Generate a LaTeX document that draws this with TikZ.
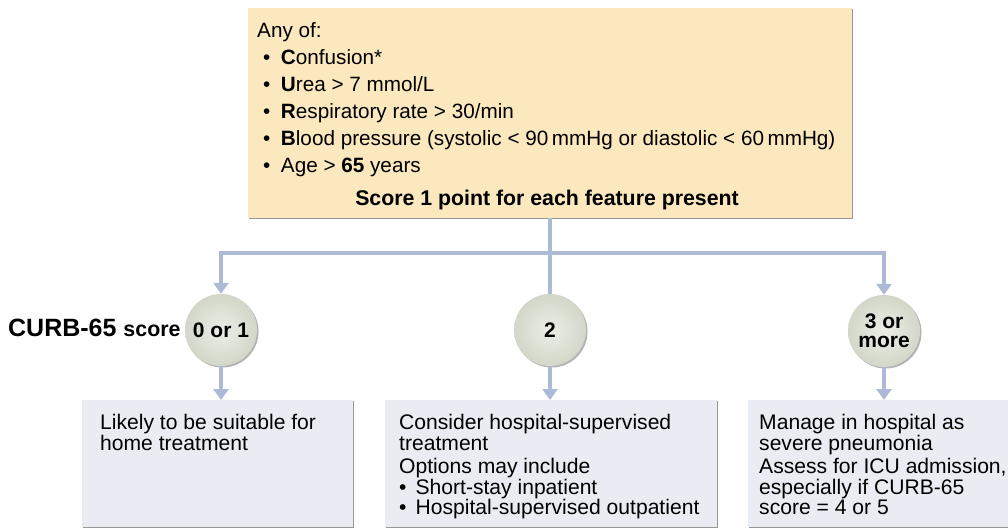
\documentclass[tikz,border=0pt]{standalone}
\usepackage{fontspec}
\setmainfont{Liberation Sans}
\usetikzlibrary{arrows.meta,shadows}
\definecolor{topfill}{RGB}{252,232,190}
\definecolor{boxfill}{RGB}{233,237,243}
\definecolor{circin}{RGB}{236,238,230}
\definecolor{circout}{RGB}{210,215,201}
\definecolor{connc}{RGB}{172,186,214}
\definecolor{edgec}{RGB}{140,140,140}
\newcommand{\bul}{•\hspace{10.5pt}}
\newcommand{\bulb}{•\hspace{9pt}}
\begin{document}
\begin{tikzpicture}[x=1pt,y=-1pt,
  panel/.style={rectangle, inner sep=0pt, anchor=north west,
    drop shadow={shadow xshift=1.2pt, shadow yshift=-1.2pt, fill=edgec, opacity=0.9}},
  topbox/.style={panel, fill=topfill},
  outbox/.style={panel, fill=boxfill},
  scorec/.style={circle, minimum size=72pt, inner sep=0pt, inner color=circin, outer color=circout,
    drop shadow={shadow xshift=1.5pt, shadow yshift=-1.5pt, fill=gray, opacity=0.6},
    font=\fontsize{21}{19}\selectfont\bfseries, align=center},
  conn/.style={draw=connc, line width=4.5pt},
  arr/.style={conn, -{Triangle[width=15pt,length=11pt]}},
  toptext/.style={inner sep=0pt, font=\fontsize{20.7}{27}\selectfont, align=left},
  outtext/.style={inner sep=0pt, anchor=north west, font=\fontsize{21.1}{20.5}\selectfont, align=left},
]
\useasboundingbox (0,0) rectangle (1008,529);

% top box
\node[topbox, minimum width=604pt, minimum height=210pt] (top) at (248,8) {};
\node[toptext, anchor=north west] (list) at (257,22.7) {Any of:\\
 \hspace{6pt}\bul\textbf{C}onfusion*\\
 \hspace{6pt}\bul\textbf{U}rea > 7 mmol/L\\
 \hspace{6pt}\bul\textbf{R}espiratory rate > 30/min\\
 \hspace{6pt}\bul\textbf{B}lood pressure (systolic < 90\,mmHg or diastolic < 60\,mmHg)\\
 \hspace{6pt}\bul Age > \textbf{65} years};
\node[inner sep=0pt, anchor=base, font=\fontsize{21.3}{21}\selectfont\bfseries] (scoreline) at (547,205.5) {Score 1 point for each feature present};

% circles
\node[scorec] (c1) at (221,330) {0 or 1};
\node[scorec] (c2) at (550,330) {2};
\node[scorec] (c3) at (884,331) {3 or\\more};
\node[inner sep=0pt, anchor=base west, font=\fontsize{25}{25}\selectfont\bfseries] (curb) at (8,336) {CURB-65 {\fontsize{21.4}{21}\selectfont score}};

% bottom boxes
\node[outbox, minimum width=271pt, minimum height=127pt] (b1) at (82,400) {};
\node[outbox, minimum width=332pt, minimum height=127pt] (b2) at (385,400) {};
\node[outbox, minimum width=264pt, minimum height=127pt] (b3) at (748,400) {};

\node[outtext] (t1) at (100,414.5) {Likely to be suitable for\\home treatment};
\node[outtext] (t2) at (399,414.5) {Consider hospital-supervised\\treatment\\[3pt]Options may include\\\bulb Short-stay inpatient\\\bulb Hospital-supervised outpatient};
\node[outtext] (t3) at (759,414.5) {Manage in hospital as\\severe pneumonia\\[3pt]Assess for ICU admission,\\especially if CURB-65\\score = 4 or 5};

% connectors
\coordinate (hl) at (221,253);
\coordinate (hr) at (884,253);
\draw[conn] (top.south -| c2) -- (c2.north);
\draw[conn, line cap=rect] (hl) -- (hr);
\draw[arr] (hl) -- (c1.north);
\draw[arr] (hr) -- (c3.north);
\draw[arr] (c1.south) -- (c1.south |- b1.north);
\draw[arr] (c2.south) -- (c2.south |- b2.north);
\draw[arr] (c3.south) -- (c3.south |- b3.north);
\end{tikzpicture}
\end{document}
